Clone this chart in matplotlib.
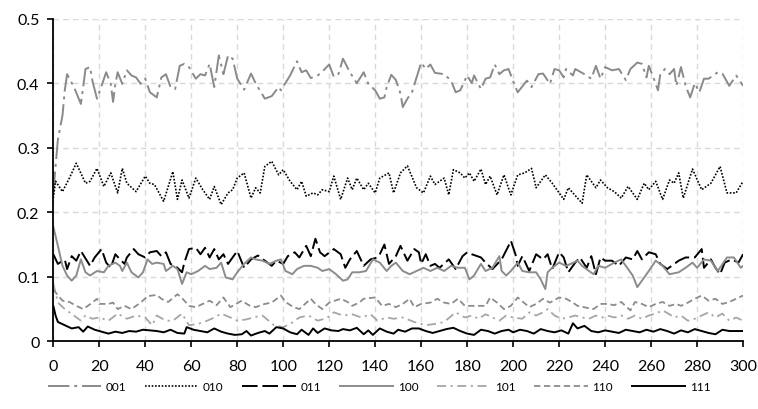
import matplotlib
matplotlib.use("Agg")
import matplotlib.pyplot as plt

plt.rcParams['font.family'] = ['Lato', 'DejaVu Sans']

# series 001 (gray long dash-dot)
x_001 = [0, 2, 4, 5, 6, 9, 12, 13, 14, 16,
         17, 19, 21, 23, 25, 26, 27, 28, 30, 32,
         34, 36, 38, 40, 42, 45, 47, 49, 51, 53,
         55, 57, 59, 62, 64, 66, 68, 70, 72, 74,
         76, 78, 80, 83, 86, 88, 92, 95, 98, 99,
         103, 106, 108, 110, 112, 115, 117, 120, 122, 124,
         126, 129, 132, 135, 137, 140, 142, 144, 145, 147,
         149, 151, 152, 154, 156, 158, 160, 162, 164, 166,
         170, 173, 175, 177, 180, 182, 183, 186, 188, 190,
         192, 194, 196, 198, 201, 202, 206, 208, 211, 213,
         216, 218, 220, 222, 223, 226, 227, 231, 234, 236,
         238, 240, 243, 246, 249, 251, 254, 256, 258, 259,
         261, 263, 264, 266, 268, 270, 271, 273, 275, 277,
         279, 281, 283, 285, 289, 291, 294, 297, 300]
y_001 = [0.230, 0.313, 0.350, 0.389, 0.414, 0.394, 0.368, 0.394, 0.422, 0.425,
         0.404, 0.376, 0.396, 0.417, 0.399, 0.371, 0.399, 0.417, 0.399, 0.420,
         0.412, 0.409, 0.399, 0.407, 0.386, 0.378, 0.409, 0.414, 0.394, 0.391,
         0.427, 0.430, 0.425, 0.407, 0.414, 0.412, 0.430, 0.394, 0.443, 0.414,
         0.443, 0.438, 0.407, 0.390, 0.415, 0.400, 0.376, 0.380, 0.394, 0.389,
         0.412, 0.434, 0.417, 0.420, 0.408, 0.412, 0.418, 0.429, 0.410, 0.414,
         0.438, 0.417, 0.400, 0.417, 0.399, 0.389, 0.376, 0.378, 0.394, 0.413,
         0.405, 0.384, 0.363, 0.376, 0.386, 0.409, 0.432, 0.422, 0.429, 0.416,
         0.414, 0.404, 0.386, 0.389, 0.412, 0.400, 0.412, 0.391, 0.407, 0.409,
         0.429, 0.414, 0.420, 0.422, 0.394, 0.386, 0.404, 0.394, 0.414, 0.415,
         0.399, 0.422, 0.420, 0.409, 0.422, 0.412, 0.422, 0.414, 0.407, 0.427,
         0.407, 0.425, 0.420, 0.422, 0.405, 0.422, 0.432, 0.430, 0.409, 0.427,
         0.409, 0.389, 0.414, 0.422, 0.414, 0.422, 0.396, 0.425, 0.396, 0.378,
         0.400, 0.386, 0.407, 0.407, 0.417, 0.415, 0.396, 0.412, 0.396]

# series 010 (black dotted)
x_010 = [0, 1, 4, 7, 10, 14, 16, 19, 22, 25,
         28, 30, 32, 36, 40, 42, 44, 48, 52, 54,
         56, 59, 62, 65, 68, 70, 73, 76, 78, 80,
         83, 86, 88, 90, 92, 95, 98, 100, 103, 106,
         108, 110, 113, 115, 117, 120, 122, 125, 128, 130,
         132, 135, 137, 140, 142, 146, 148, 151, 154, 158,
         161, 164, 166, 170, 172, 174, 177, 179, 181, 183,
         186, 188, 190, 193, 196, 199, 202, 205, 208, 210,
         214, 217, 222, 224, 226, 230, 232, 236, 238, 241,
         244, 247, 250, 254, 257, 259, 262, 265, 268, 270,
         272, 274, 278, 282, 286, 290, 293, 297, 300]
y_010 = [0.222, 0.248, 0.232, 0.253, 0.276, 0.245, 0.248, 0.268, 0.240, 0.261,
         0.230, 0.268, 0.245, 0.232, 0.256, 0.245, 0.243, 0.217, 0.263, 0.220,
         0.250, 0.222, 0.253, 0.235, 0.220, 0.240, 0.212, 0.230, 0.235, 0.253,
         0.261, 0.222, 0.238, 0.230, 0.271, 0.279, 0.258, 0.266, 0.248, 0.235,
         0.248, 0.225, 0.230, 0.227, 0.235, 0.232, 0.256, 0.220, 0.253, 0.235,
         0.253, 0.235, 0.245, 0.230, 0.253, 0.261, 0.230, 0.261, 0.272, 0.238,
         0.230, 0.256, 0.243, 0.253, 0.227, 0.266, 0.261, 0.253, 0.261, 0.248,
         0.267, 0.243, 0.256, 0.227, 0.258, 0.227, 0.258, 0.261, 0.268, 0.238,
         0.258, 0.245, 0.220, 0.238, 0.230, 0.214, 0.258, 0.238, 0.250, 0.238,
         0.232, 0.222, 0.240, 0.220, 0.245, 0.235, 0.248, 0.220, 0.250, 0.245,
         0.261, 0.222, 0.267, 0.235, 0.245, 0.271, 0.230, 0.230, 0.248]

# series 011 (black long dash)
x_011 = [0, 2, 5, 6, 8, 10, 12, 16, 18, 21,
         23, 25, 27, 29, 31, 32, 35, 37, 40, 42,
         45, 47, 49, 51, 54, 56, 57, 59, 62, 64,
         66, 68, 70, 72, 74, 76, 78, 80, 83, 86,
         89, 92, 95, 97, 100, 102, 105, 107, 110, 112,
         114, 116, 118, 122, 125, 127, 129, 132, 135, 138,
         141, 142, 144, 146, 149, 151, 154, 157, 159, 160,
         162, 164, 166, 168, 172, 175, 178, 180, 182, 186,
         188, 191, 195, 198, 199, 201, 202, 204, 207, 210,
         213, 215, 217, 220, 222, 224, 227, 229, 232, 234,
         236, 238, 240, 243, 246, 249, 252, 254, 256, 259,
         262, 264, 267, 272, 275, 279, 282, 283, 286, 288,
         290, 292, 295, 298, 300]
y_011 = [0.135, 0.120, 0.127, 0.112, 0.132, 0.125, 0.140, 0.117, 0.130, 0.143,
         0.122, 0.114, 0.135, 0.127, 0.120, 0.130, 0.143, 0.135, 0.130, 0.138,
         0.140, 0.132, 0.138, 0.120, 0.114, 0.107, 0.122, 0.143, 0.145, 0.135,
         0.145, 0.130, 0.143, 0.127, 0.135, 0.120, 0.130, 0.140, 0.114, 0.127,
         0.133, 0.125, 0.117, 0.125, 0.120, 0.132, 0.138, 0.130, 0.148, 0.132,
         0.159, 0.138, 0.132, 0.143, 0.135, 0.114, 0.127, 0.140, 0.117, 0.127,
         0.130, 0.135, 0.150, 0.120, 0.132, 0.148, 0.125, 0.143, 0.138, 0.120,
         0.135, 0.117, 0.120, 0.114, 0.127, 0.112, 0.132, 0.138, 0.135, 0.130,
         0.122, 0.112, 0.127, 0.148, 0.156, 0.135, 0.117, 0.132, 0.109, 0.135,
         0.127, 0.135, 0.112, 0.138, 0.130, 0.107, 0.122, 0.130, 0.114, 0.132,
         0.104, 0.130, 0.125, 0.125, 0.117, 0.130, 0.127, 0.140, 0.127, 0.138,
         0.135, 0.120, 0.112, 0.125, 0.130, 0.130, 0.143, 0.114, 0.127, 0.114,
         0.104, 0.122, 0.127, 0.122, 0.135]

# series 100 (gray solid)
x_100 = [0, 2, 4, 6, 8, 10, 12, 14, 16, 19,
         22, 24, 27, 29, 30, 32, 34, 37, 39, 41,
         43, 45, 48, 49, 52, 54, 56, 58, 60, 63,
         66, 68, 71, 73, 75, 78, 80, 83, 86, 88,
         91, 94, 97, 99, 101, 104, 106, 109, 112, 115,
         117, 120, 123, 126, 128, 130, 133, 136, 139, 142,
         145, 147, 149, 152, 155, 158, 161, 164, 167, 170,
         173, 176, 179, 181, 183, 186, 188, 191, 194, 195,
         197, 199, 202, 204, 207, 210, 212, 214, 215, 217,
         220, 223, 225, 228, 230, 233, 235, 237, 240, 244,
         247, 250, 252, 254, 257, 259, 262, 265, 268, 272,
         275, 278, 280, 283, 286, 289, 293, 296, 299, 300]
y_100 = [0.178, 0.148, 0.117, 0.102, 0.094, 0.102, 0.127, 0.107, 0.102, 0.109,
         0.107, 0.117, 0.122, 0.117, 0.109, 0.122, 0.107, 0.099, 0.107, 0.127,
         0.120, 0.122, 0.120, 0.109, 0.117, 0.112, 0.089, 0.107, 0.104, 0.109,
         0.117, 0.112, 0.114, 0.122, 0.099, 0.096, 0.107, 0.120, 0.130, 0.127,
         0.125, 0.120, 0.125, 0.127, 0.109, 0.104, 0.112, 0.117, 0.117, 0.114,
         0.109, 0.112, 0.104, 0.094, 0.096, 0.107, 0.107, 0.109, 0.127, 0.122,
         0.109, 0.117, 0.122, 0.109, 0.104, 0.109, 0.114, 0.109, 0.114, 0.109,
         0.117, 0.114, 0.114, 0.096, 0.102, 0.120, 0.109, 0.114, 0.132, 0.109,
         0.102, 0.109, 0.122, 0.109, 0.107, 0.107, 0.096, 0.081, 0.107, 0.114,
         0.122, 0.117, 0.120, 0.125, 0.117, 0.109, 0.104, 0.117, 0.114, 0.122,
         0.127, 0.112, 0.102, 0.084, 0.099, 0.109, 0.125, 0.117, 0.104, 0.107,
         0.114, 0.122, 0.114, 0.127, 0.125, 0.109, 0.130, 0.130, 0.114, 0.117]

# series 101 (light gray dash-dot)
x_101 = [0, 2, 5, 9, 12, 14, 17, 20, 24, 28,
         32, 36, 40, 43, 45, 49, 52, 56, 59, 63,
         67, 70, 73, 77, 80, 84, 87, 91, 93, 96,
         100, 103, 107, 111, 115, 119, 122, 126, 130, 134,
         138, 141, 145, 148, 152, 157, 162, 166, 170, 175,
         179, 182, 185, 188, 191, 194, 197, 200, 204, 207,
         210, 213, 215, 218, 221, 224, 227, 230, 233, 236,
         239, 241, 244, 247, 250, 253, 256, 259, 262, 265,
         268, 270, 273, 276, 279, 282, 285, 288, 291, 294,
         297, 300]
y_101 = [0.090, 0.060, 0.050, 0.040, 0.032, 0.040, 0.035, 0.037, 0.032, 0.043,
         0.035, 0.040, 0.037, 0.025, 0.040, 0.032, 0.032, 0.043, 0.025, 0.027,
         0.032, 0.037, 0.043, 0.037, 0.032, 0.034, 0.037, 0.040, 0.034, 0.025,
         0.022, 0.027, 0.037, 0.040, 0.032, 0.036, 0.045, 0.040, 0.042, 0.037,
         0.042, 0.032, 0.037, 0.035, 0.037, 0.030, 0.025, 0.027, 0.030, 0.045,
         0.037, 0.040, 0.035, 0.042, 0.037, 0.032, 0.040, 0.037, 0.035, 0.045,
         0.040, 0.045, 0.050, 0.040, 0.035, 0.037, 0.040, 0.037, 0.035, 0.040,
         0.037, 0.040, 0.037, 0.040, 0.035, 0.040, 0.035, 0.040, 0.043, 0.048,
         0.042, 0.037, 0.040, 0.032, 0.035, 0.040, 0.045, 0.037, 0.043, 0.032,
         0.037, 0.032]

# series 110 (gray short dash)
x_110 = [0, 4, 7, 10, 13, 17, 19, 20, 24, 26,
         28, 31, 34, 38, 41, 45, 47, 50, 54, 56,
         59, 62, 65, 68, 71, 74, 77, 82, 85, 88,
         92, 95, 99, 101, 104, 107, 112, 114, 117, 120,
         125, 128, 130, 133, 135, 140, 143, 146, 149, 152,
         155, 157, 160, 164, 167, 170, 173, 176, 179, 183,
         188, 190, 193, 196, 199, 202, 207, 210, 213, 216,
         220, 223, 226, 228, 232, 235, 238, 241, 244, 247,
         251, 253, 256, 259, 262, 265, 268, 271, 273, 276,
         279, 282, 285, 288, 291, 294, 297, 300]
y_110 = [0.080, 0.063, 0.061, 0.055, 0.050, 0.060, 0.066, 0.058, 0.058, 0.060,
         0.050, 0.055, 0.050, 0.060, 0.070, 0.072, 0.066, 0.061, 0.073, 0.067,
         0.055, 0.053, 0.058, 0.063, 0.056, 0.068, 0.053, 0.063, 0.056, 0.053,
         0.058, 0.060, 0.071, 0.061, 0.054, 0.050, 0.066, 0.058, 0.050, 0.060,
         0.066, 0.061, 0.055, 0.060, 0.066, 0.068, 0.055, 0.058, 0.053, 0.058,
         0.066, 0.053, 0.058, 0.060, 0.066, 0.060, 0.058, 0.066, 0.055, 0.055,
         0.055, 0.068, 0.060, 0.050, 0.055, 0.068, 0.053, 0.058, 0.066, 0.060,
         0.068, 0.066, 0.060, 0.055, 0.052, 0.050, 0.058, 0.058, 0.056, 0.061,
         0.048, 0.061, 0.058, 0.053, 0.058, 0.061, 0.055, 0.058, 0.055, 0.060,
         0.066, 0.071, 0.063, 0.066, 0.058, 0.061, 0.066, 0.071]

# series 111 (black solid)
x_111 = [0, 1, 2, 5, 8, 11, 13, 15, 18, 21,
         24, 27, 30, 33, 36, 39, 42, 45, 48, 51,
         54, 57, 58, 61, 64, 67, 70, 73, 76, 79,
         82, 84, 86, 89, 92, 94, 97, 100, 103, 106,
         108, 111, 113, 115, 118, 121, 124, 126, 129, 132,
         135, 137, 139, 142, 145, 148, 150, 153, 156, 159,
         162, 165, 168, 171, 174, 177, 180, 183, 186, 189,
         192, 195, 198, 200, 203, 206, 209, 212, 215, 218,
         221, 224, 226, 228, 231, 234, 237, 240, 243, 246,
         249, 252, 255, 258, 261, 264, 267, 270, 273, 276,
         279, 282, 285, 288, 291, 294, 297, 300]
y_111 = [0.055, 0.040, 0.030, 0.025, 0.020, 0.022, 0.015, 0.023, 0.018, 0.015,
         0.012, 0.015, 0.013, 0.016, 0.015, 0.018, 0.017, 0.016, 0.014, 0.018,
         0.013, 0.012, 0.022, 0.018, 0.016, 0.014, 0.020, 0.015, 0.012, 0.010,
         0.011, 0.016, 0.009, 0.013, 0.016, 0.012, 0.022, 0.020, 0.014, 0.011,
         0.018, 0.010, 0.020, 0.013, 0.020, 0.017, 0.016, 0.019, 0.017, 0.021,
         0.011, 0.017, 0.010, 0.020, 0.015, 0.012, 0.018, 0.015, 0.020, 0.020,
         0.016, 0.013, 0.016, 0.019, 0.021, 0.016, 0.012, 0.010, 0.018, 0.016,
         0.012, 0.016, 0.018, 0.014, 0.018, 0.016, 0.012, 0.019, 0.016, 0.014,
         0.017, 0.012, 0.028, 0.020, 0.024, 0.016, 0.014, 0.017, 0.015, 0.013,
         0.018, 0.016, 0.014, 0.018, 0.015, 0.019, 0.016, 0.012, 0.017, 0.014,
         0.019, 0.016, 0.013, 0.011, 0.018, 0.016, 0.016, 0.016]

x_ticks = list(range(0, 301, 20))
y_ticks = [0, 0.1, 0.2, 0.3, 0.4, 0.5]
y_tick_labels = ["0", "0.1", "0.2", "0.3", "0.4", "0.5"]

fig = plt.figure(figsize=(7.58, 4.10), dpi=100)
ax = fig.add_axes([0.0703, 0.165, 0.910, 0.787])

ax.plot(x_001, y_001, color="#8a8a8a", lw=1.4, dashes=(11, 2.5, 1.5, 2.5), label="001")
ax.plot(x_010, y_010, color="black", lw=1.2, dashes=(1, 1), label="010")
ax.plot(x_011, y_011, color="black", lw=1.4, dashes=(8, 2.5), label="011")
ax.plot(x_100, y_100, color="#8c8c8c", lw=1.4, label="100")
ax.plot(x_101, y_101, color="#a6a6a6", lw=1.3, dashes=(5, 2.5, 1.2, 2.5), label="101")
ax.plot(x_110, y_110, color="#8c8c8c", lw=1.3, dashes=(3.5, 2), label="110")
ax.plot(x_111, y_111, color="black", lw=1.4, label="111")

ax.set_xlim(0, 300)
ax.set_ylim(0, 0.5)
ax.set_xticks(x_ticks)
ax.set_yticks(y_ticks)
ax.set_yticklabels(y_tick_labels)
ax.grid(True, color="#d9d9d9", lw=1, dashes=(4, 3))
ax.set_axisbelow(True)

for side in ["top", "right"]:
    ax.spines[side].set_visible(False)
for side in ["left", "bottom"]:
    ax.spines[side].set_linewidth(1.3)
    ax.spines[side].set_color("black")
ax.tick_params(axis="both", direction="out", length=4, width=1.2, labelsize=11.5)
ax.tick_params(axis="x", pad=9)
ax.tick_params(axis="y", pad=6)

fig.legend(loc="center", bbox_to_anchor=(0.5, 0.055), ncol=7, frameon=False,
           fontsize=8.5, handlelength=4.5, columnspacing=1.6, handletextpad=0.4)

fig.savefig("out.png", dpi=100)
